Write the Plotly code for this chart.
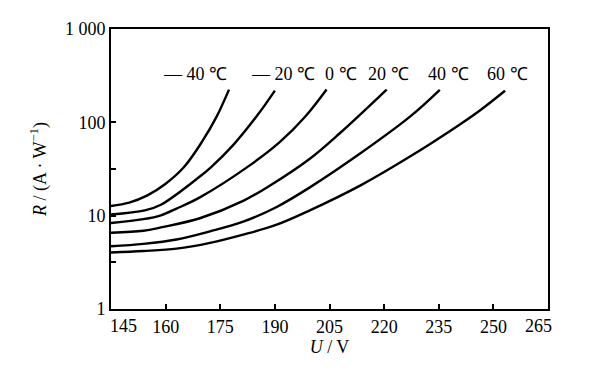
import math
import plotly.graph_objects as go

# ---- data ----
u_m40 = [145, 150, 155, 160, 165, 170, 174.0, 177.4]
r_m40 = [12.7, 13.8, 16.5, 22.0, 33.0, 62.0, 115.0, 224.0]

u_m20 = [145, 154.3, 158.7, 169.4, 172.5, 178.6, 185.4, 190.0]
r_m20 = [10.3, 11.4, 13.1, 26.3, 33.2, 57.4, 122, 219]

u_0 = [145, 153.9, 158.7, 163.0, 169.4, 183.2, 191.4, 198.3, 204.2]
r_0 = [8.33, 9.17, 10.08, 11.9, 15.7, 34.8, 61.6, 114.6, 224.5]

u_20 = [145, 153.9, 158.7, 169.4, 181.3, 188.7, 199.6, 207.9, 220.7]
r_20 = [6.56, 6.89, 7.48, 9.38, 14.4, 21.1, 40.8, 76.9, 224.5]

u_40 = [145, 153.9, 163.0, 172.2, 181.3, 190.5, 199.6, 213.4, 227.1, 235.3]
r_40 = [4.70, 4.99, 5.56, 6.80, 8.63, 12.4, 20.1, 46.3, 115, 223]

u_60 = [145, 153.9, 163.0, 172.2, 181.3, 190.5, 199.6, 213.4, 227.1, 240.8, 246.3, 253.2]
r_60 = [4.03, 4.18, 4.43, 5.11, 6.26, 8.00, 11.4, 21.0, 43.0, 95.0, 134, 218]

series = [(u_m40, r_m40), (u_m20, r_m20), (u_0, r_0), (u_20, r_20), (u_40, r_40), (u_60, r_60)]

label_text = ["— 40 ℃", "— 20 ℃", "0 ℃", "20 ℃", "40 ℃", "60 ℃"]
label_u = [168.2, 192.1, 208.2, 221.2, 237.7, 254.0]
label_r = [326, 326, 326, 326, 326, 326]

x_ticks = [160, 175, 190, 205, 220, 235, 250]
x_edge_labels = [("145", 145), ("265", 265)]
y_ticks = [1, 10, 100, 1000]
y_tick_text = ["1", "10", "100", "1 000"]
y_minor = [3.16, 31.6]

FONT = "Liberation Serif"
FS = 18

fig = go.Figure()
for u, r in series:
    fig.add_trace(go.Scatter(x=u, y=r, mode="lines",
                             line=dict(color="black", width=2.4, shape="spline", smoothing=1.0),
                             showlegend=False, hoverinfo="skip"))

for t, u, r in zip(label_text, label_u, label_r):
    fig.add_annotation(x=u, y=math.log10(r), yref="y", xref="x", text=t, showarrow=False,
                       font=dict(family=FONT, size=FS, color="black"))

# edge tick labels of the x axis are pushed inward in the reference
fig.add_annotation(x=x_edge_labels[0][1], y=0, xref="x", yref="paper", text=x_edge_labels[0][0],
                   showarrow=False, xanchor="left", yanchor="top", xshift=-3, yshift=-5,
                   font=dict(family=FONT, size=FS, color="black"))
fig.add_annotation(x=x_edge_labels[1][1], y=0, xref="x", yref="paper", text=x_edge_labels[1][0],
                   showarrow=False, xanchor="center", yanchor="top", xshift=-10, yshift=-5,
                   font=dict(family=FONT, size=FS, color="black"))

# page body has an 8px margin, so the figure is shrunk by 8px and margins shifted
fig.update_layout(
    width=582, height=365,
    margin=dict(l=103, r=42, t=11, b=64),
    paper_bgcolor="white", plot_bgcolor="white",
    font=dict(family=FONT, size=FS, color="black"),
)
fig.update_xaxes(
    range=[145, 265], tickvals=x_ticks, ticks="inside", ticklen=5, tickwidth=1.5,
    tickcolor="black", showline=True, linewidth=2, linecolor="black", mirror=True,
    showgrid=False, zeroline=False,
    tickfont=dict(family=FONT, size=FS),
    title=dict(text="<i>U</i> / V", font=dict(family=FONT, size=FS), standoff=2),
)
fig.update_yaxes(
    type="log", range=[0, 3], tickvals=y_ticks, ticktext=y_tick_text,
    ticks="inside", ticklen=5, tickwidth=1.5, tickcolor="black",
    minor=dict(tickvals=y_minor, ticks="inside", ticklen=5, tickwidth=1.5, tickcolor="black"),
    showline=True, linewidth=2, linecolor="black", mirror=True,
    showgrid=False, zeroline=False,
    tickfont=dict(family=FONT, size=FS),
    title=dict(text="<i>R</i> / (A · W<sup>−1</sup>)", font=dict(family=FONT, size=FS), standoff=14),
)

fig.write_html("out.html")
